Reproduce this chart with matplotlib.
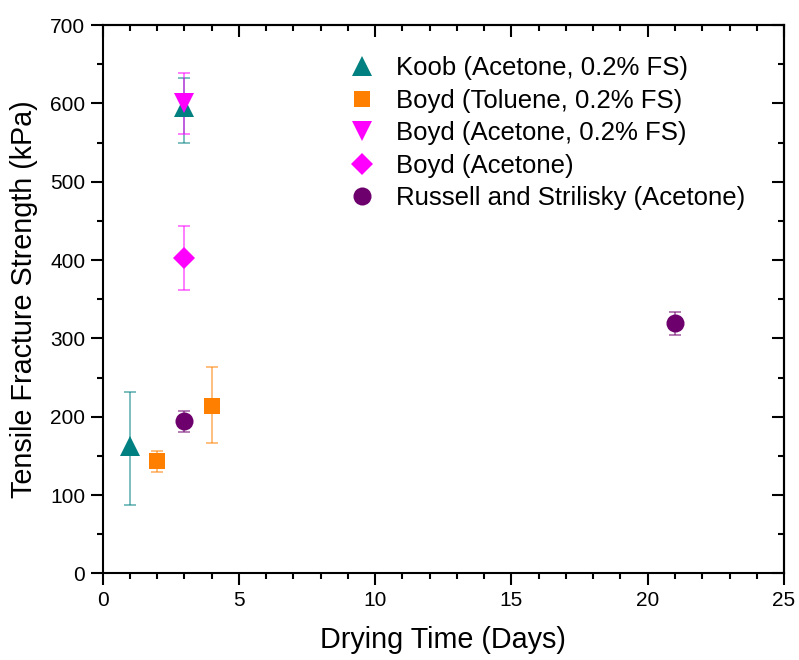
import matplotlib
matplotlib.use("Agg")
import matplotlib.pyplot as plt
from matplotlib.ticker import MultipleLocator

plt.rcParams['font.family'] = ['Liberation Sans', 'DejaVu Sans']

# Data
koob_x = [1, 3]
koob_y = [162, 595]
koob_err_lo = [75, 45]
koob_err_hi = [70, 37]

boyd_tol_x = [2, 4]
boyd_tol_y = [143, 214]
boyd_tol_err_lo = [13, 48]
boyd_tol_err_hi = [13, 49]

boyd_acfs_x = [3]
boyd_acfs_y = [600]
boyd_acfs_err_lo = [39]
boyd_acfs_err_hi = [39]

boyd_ac_x = [3]
boyd_ac_y = [403]
boyd_ac_err_lo = [41]
boyd_ac_err_hi = [41]

russ_x = [3, 21]
russ_y = [194, 319]
russ_err_lo = [13, 15]
russ_err_hi = [13, 15]

labels = ["Koob (Acetone, 0.2% FS)", "Boyd (Toluene, 0.2% FS)",
          "Boyd (Acetone, 0.2% FS)", "Boyd (Acetone)",
          "Russell and Strilisky (Acetone)"]

fig = plt.figure(figsize=(7.99, 6.6), dpi=100)
ax = fig.add_axes([0.1283, 0.1313, 0.853, 0.8308])

series = [
    (koob_x, koob_y, koob_err_lo, koob_err_hi, '#008080', '^', 15),
    (boyd_tol_x, boyd_tol_y, boyd_tol_err_lo, boyd_tol_err_hi, '#FF8000', 's', 11.5),
    (boyd_acfs_x, boyd_acfs_y, boyd_acfs_err_lo, boyd_acfs_err_hi, '#FF00FF', 'v', 15),
    (boyd_ac_x, boyd_ac_y, boyd_ac_err_lo, boyd_ac_err_hi, '#FF00FF', 'D', 11.5),
    (russ_x, russ_y, russ_err_lo, russ_err_hi, '#6E006E', 'o', 13),
]

handles = []
for (x, y, lo, hi, c, m, ms), lab in zip(series, labels):
    ax.errorbar(x, y, yerr=[lo, hi], fmt='none', ecolor=c, alpha=0.55,
                elinewidth=1.3, capsize=4.2, capthick=1.3, zorder=2)
    h, = ax.plot(x, y, linestyle='none', marker=m, markersize=ms,
                 color=c, markeredgewidth=0, label=lab, zorder=3)
    handles.append(h)

ax.set_xlim(0, 25)
ax.set_ylim(0, 700)
ax.xaxis.set_major_locator(MultipleLocator(5))
ax.xaxis.set_minor_locator(MultipleLocator(1))
ax.yaxis.set_major_locator(MultipleLocator(100))
ax.yaxis.set_minor_locator(MultipleLocator(50))

ax.tick_params(which='both', direction='out', width=1.5, labelsize=15,
               top=False, right=False)
ax.tick_params(which='major', length=8.5, pad=4)
ax.tick_params(which='minor', length=4.5)

# mirrored inward ticks on top and right
axt = ax.secondary_xaxis('top')
axt.xaxis.set_major_locator(MultipleLocator(5))
axt.xaxis.set_minor_locator(MultipleLocator(1))
axt.tick_params(which='both', direction='in', width=1.5, labeltop=False)
axt.tick_params(which='major', length=8.5)
axt.tick_params(which='minor', length=4.5)
axt.spines['top'].set_linewidth(1.5)
axr = ax.secondary_yaxis('right')
axr.yaxis.set_major_locator(MultipleLocator(100))
axr.yaxis.set_minor_locator(MultipleLocator(50))
axr.tick_params(which='both', direction='in', width=1.5, labelright=False)
axr.tick_params(which='major', length=8.5)
axr.tick_params(which='minor', length=4.5)
axr.spines['right'].set_linewidth(1.5)

for s in ax.spines.values():
    s.set_linewidth(1.5)

ax.set_xlabel("Drying Time (Days)", fontsize=20.7, labelpad=12)
ax.set_ylabel("Tensile Fracture Strength (kPa)", fontsize=20.7, labelpad=9)

ax.legend(handles=handles, loc='upper left', bbox_to_anchor=(0.353, 0.943),
          frameon=False, fontsize=18.5, handletextpad=0.55, labelspacing=0.33,
          handlelength=1.5, borderpad=0, borderaxespad=0, markerscale=1.0)

fig.savefig("out.png", dpi=100)
